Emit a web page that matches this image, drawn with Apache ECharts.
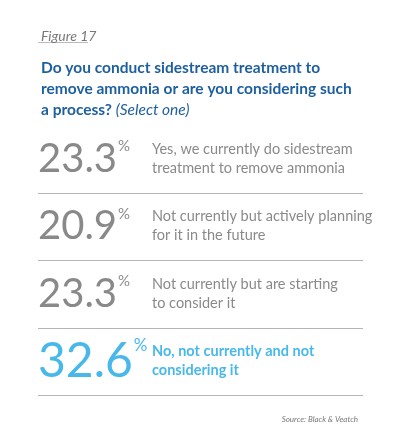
<!DOCTYPE html>
<html>
<head>
<meta charset="utf-8">
<script src="https://cdn.jsdelivr.net/npm/echarts@6/dist/echarts.min.js"></script>
<style>html,body{margin:0;background:#fff}#main{width:400px;height:443px}</style>
</head>
<body>
<div id="main"></div>
<script>
// survey answers, top to bottom
const answers = [
  'Yes, we currently do sidestream\ntreatment to remove ammonia',
  'Not currently but actively planning\nfor it in the future',
  'Not currently but are starting\nto consider it',
  'No, not currently and not\nconsidering it'
];
const shares = [23.3, 20.9, 23.3, 32.6];
const highlight = 3; // the blue one

const grey = '#6b6b6b';
const blue = '#1aa6e6';
const font = 'Lato';

const chart = echarts.init(document.getElementById('main'));

const numData = shares.map((v, i) => {
  const big = i === highlight;
  const c = big ? blue : grey;
  return {
    value: [0, i],
    label: {
      formatter: '{n|' + v.toFixed(1) + '}{p|%}',
      rich: {
        n: { fontFamily: font, fontSize: big ? 48 : 40, color: c, lineHeight: big ? 48 : 40 },
        p: { fontFamily: font, fontSize: big ? 17 : 15, color: c, verticalAlign: 'top',
             lineHeight: big ? 48 : 40, padding: [0, 0, 0, 1] }
      }
    }
  };
});
const textData = answers.map((t, i) => ({
  value: [114, i],
  label: {
    formatter: t,
    color: i === highlight ? blue : '#6b6b6b',
    fontWeight: i === highlight ? 'bold' : 'normal',
    fontSize: 14.5, lineHeight: 19, fontFamily: font
  }
}));

chart.setOption({
  animation: false,
  title: [
    { text: 'Figure 17', left: 36, top: 24,
      textStyle: { fontFamily: font, fontStyle: 'italic', fontWeight: 'normal', fontSize: 14, color: '#777' } },
    { text: '{b|Do you conduct sidestream treatment to}\n{b|remove ammonia or are you considering such}\n{b|a process? }{i|(Select one)}',
      left: 36, top: 52,
      textStyle: { rich: {
        b: { fontFamily: font, fontWeight: 'bold', fontSize: 15.5, color: '#1d5f9f', lineHeight: 21 },
        i: { fontFamily: font, fontStyle: 'italic', fontWeight: 'normal', fontSize: 15.5, color: '#1d5f9f', lineHeight: 21 }
      } } },
    { text: 'Source: Black & Veatch', right: 37, top: 410,
      textStyle: { fontFamily: font, fontStyle: 'italic', fontWeight: 'normal', fontSize: 8, color: '#777' } }
  ],
  grid: { left: 38, right: 37, top: 125, bottom: 48 },
  xAxis: { type: 'value', min: 0, max: 325, show: false },
  yAxis: { type: 'category', inverse: true, data: answers, show: false },
  series: [
    { type: 'scatter', symbolSize: 0, data: numData, label: { show: true, position: 'right', distance: 0 } },
    { type: 'scatter', symbolSize: 0, data: textData, label: { show: true, position: 'right', distance: 0 } }
  ]
});

// dividers under each row, at band edges
const lines = [];
const band = chart.convertToPixel({ yAxisIndex: 0 }, 1) - chart.convertToPixel({ yAxisIndex: 0 }, 0);
lines.push({ type: 'line', shape: { x1: 38, y1: 42.5, x2: 88, y2: 42.5 }, style: { stroke: '#bbb', lineWidth: 1 } });
answers.forEach((a, i) => {
  const y = Math.round(chart.convertToPixel({ yAxisIndex: 0 }, i) + band / 2) + 0.5;
  lines.push({ type: 'line', shape: { x1: 38, y1: y, x2: 363, y2: y }, style: { stroke: '#b5b5b5', lineWidth: 1 } });
});
chart.setOption({ graphic: lines });
</script>
</body>
</html>
